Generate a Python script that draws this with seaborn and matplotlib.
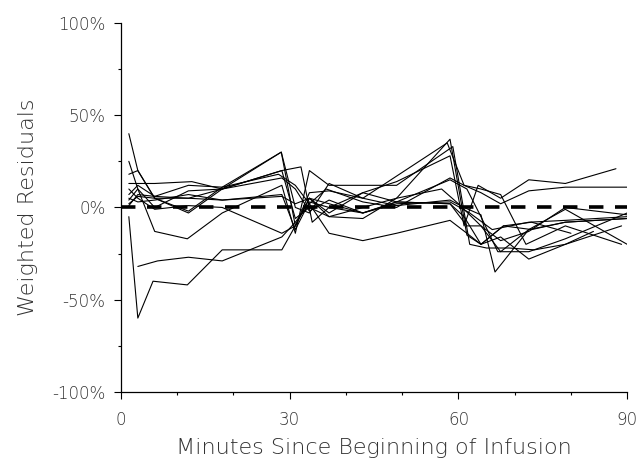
import matplotlib
matplotlib.use("Agg")
import matplotlib.pyplot as plt
import seaborn as sns
import numpy as np
import pandas as pd
from matplotlib.ticker import MultipleLocator, FuncFormatter

sns.set_theme(style="ticks")
plt.rcParams['font.family'] = ['DejaVu Sans']

# sampling times (minutes) and weighted residuals (%) per subject
t01 = [1.4, 3, 6, 12, 18, 28.5, 31, 33.5, 37, 43, 49, 58.5, 61.5, 64, 68, 73, 79, 90]
r01 = [40, 20, 5, 5, 10, 30, -10, 5, -5, 0, 5, 37, -15, -20, -10, -12, -8, -6]
t02 = [1.4, 3, 5.7, 11.8, 18, 28.6, 31, 33.5, 37, 43, 49, 58.5, 62, 66, 72.5, 79, 90]
r02 = [-5, -60, -40, -42, -23, -23, -10, 5, 2, -3, 2, 3, -3, -12, -8, -7, -5]
t03 = [3, 6.5, 12, 18, 28.6, 31, 33.5, 37, 43, 49, 58.5, 61.5, 64, 67.5, 72.5, 79, 89]
r03 = [-32, -29, -27, -29, -16, -8, 2, -14, -18, -14, -7, -14, -20, -16, -28, -20, -10]
t04 = [1.4, 3, 6, 11.8, 18, 28.6, 31, 33.5, 37, 43, 49, 59, 62, 65, 69, 73.5, 79, 84]
r04 = [25, 10, -13, -17, -3, 12, -14, 20, 12, 12, 12, 33, -20, -22, -22, -23, -20, -13]
t05 = [1.4, 3, 6, 12, 18, 28.5, 31, 33.5, 37, 43, 49, 58, 61, 64, 67.5, 72, 79, 89]
r05 = [18, 20, 5, -2, 11, 30, 0, -3, 13, 5, 17, 35, 12, 10, 7, -20, -10, -20]
t06 = [1.4, 6, 12.6, 18, 28.6, 32, 34, 37, 43, 49, 58.5, 61, 63.5, 67.5, 72.5, 79, 88]
r06 = [13, 13, 14, 10, 20, 22, -8, 0, 8, 14, 28, -10, 12, 5, 15, 13, 21]
t07 = [1.4, 3, 6, 12, 18, 28, 31, 33.5, 36.5, 43, 49, 58.5, 61, 64, 67.5, 72.5, 79, 90]
r07 = [7, 12, 6, 12, 11, 18, 12, 2, 10, 3, 0, 16, 12, 8, 2, 9, 11, 11]
t08 = [1.4, 3, 6, 12, 18, 28.6, 31, 33.5, 37, 43, 49, 57, 60, 64, 67.5, 72.5, 79, 90]
r08 = [4, 10, 0, 9, 10, 20, -6, 0, -5, -6, 5, 10, 2, -10, -18, -13, 0, -4]
t09 = [1.4, 3, 6, 12, 18, 28.6, 31, 33.5, 37, 43, 49, 58.5, 61.5, 64, 67.5, 72.5, 79, 90]
r09 = [1, 7, 6, 5, 4, 6, 2, 5, -3, 8, 3, 2, -10, -10, -24, -12, -8, -6]
t10 = [1.4, 3, 6, 12, 18, 28.6, 31, 33.5, 37, 43, 49, 58.5, 61, 64, 66.5, 72.5, 79, 90]
r10 = [10, 5, -1, 1, 0, -14, -10, 8, 9, 5, 1, 4, 0, -4, -35, -12, -1, -20]
t11 = [1.4, 3, 6, 12, 18, 28.6, 31, 33.5, 37, 43, 49, 58.5, 61.5, 64, 67, 72.5, 79, 90]
r11 = [2, 6, 5, -3, 10, 16, 10, -2, 4, -3, 3, 15, 10, -5, -24, -24, -17, -3]
t12 = [1.4, 3, 6, 12, 18, 28.6, 31, 33.5, 37, 43, 49, 58.5, 61, 64, 68, 73, 80]
r12 = [5, 3, 4, 7, 4, 7, -12, 3, 0, -3, 3, 2, -5, -20, -10, -8, -14]

series = [(t01, r01), (t02, r02), (t03, r03), (t04, r04), (t05, r05), (t06, r06),
          (t07, r07), (t08, r08), (t09, r09), (t10, r10), (t11, r11), (t12, r12)]

rows = []
for i, (t, r) in enumerate(series):
    for tt, rr in zip(t, r):
        rows.append({'subject': i, 'minutes': tt, 'residual': rr})
df = pd.DataFrame(rows)

fig = plt.figure(figsize=(6.4, 4.61), dpi=100)
ax = fig.add_axes([0.189, 0.150, 0.791, 0.800])

sns.lineplot(data=df, x='minutes', y='residual', units='subject', estimator=None,
             color='black', lw=0.8, ax=ax, legend=False)
ax.plot([0, 90], [0, 0], color='black', lw=2.6, dashes=(4, 3.2))

ax.set_xlim(0, 90)
ax.set_ylim(-100, 100)
ax.xaxis.set_major_locator(MultipleLocator(30))
ax.xaxis.set_minor_locator(MultipleLocator(10))
ax.yaxis.set_major_locator(MultipleLocator(50))
ax.yaxis.set_minor_locator(MultipleLocator(25))
ax.yaxis.set_major_formatter(FuncFormatter(lambda v, p: f'{v:.0f}%'))

sns.despine(ax=ax)
for s in ['left', 'bottom']:
    ax.spines[s].set_linewidth(0.9)
    ax.spines[s].set_color('black')
ax.tick_params(which='major', length=5, width=0.8, color='black', labelsize=12,
               labelcolor='#333333')
ax.tick_params(axis='x', which='major', pad=9)
ax.tick_params(axis='y', which='major', pad=6)
ax.tick_params(which='minor', length=2.5, width=0.8, color='black')
for lab in ax.get_xticklabels() + ax.get_yticklabels():
    lab.set_fontweight('light')

ax.set_xlabel('Minutes Since Beginning of Infusion', fontsize=16, color='#333333',
              labelpad=6, fontweight='light')
ax.set_ylabel('Weighted Residuals', fontsize=16, color='#333333', labelpad=10,
              fontweight='light')

fig.savefig('out.png', dpi=100, facecolor='white')
